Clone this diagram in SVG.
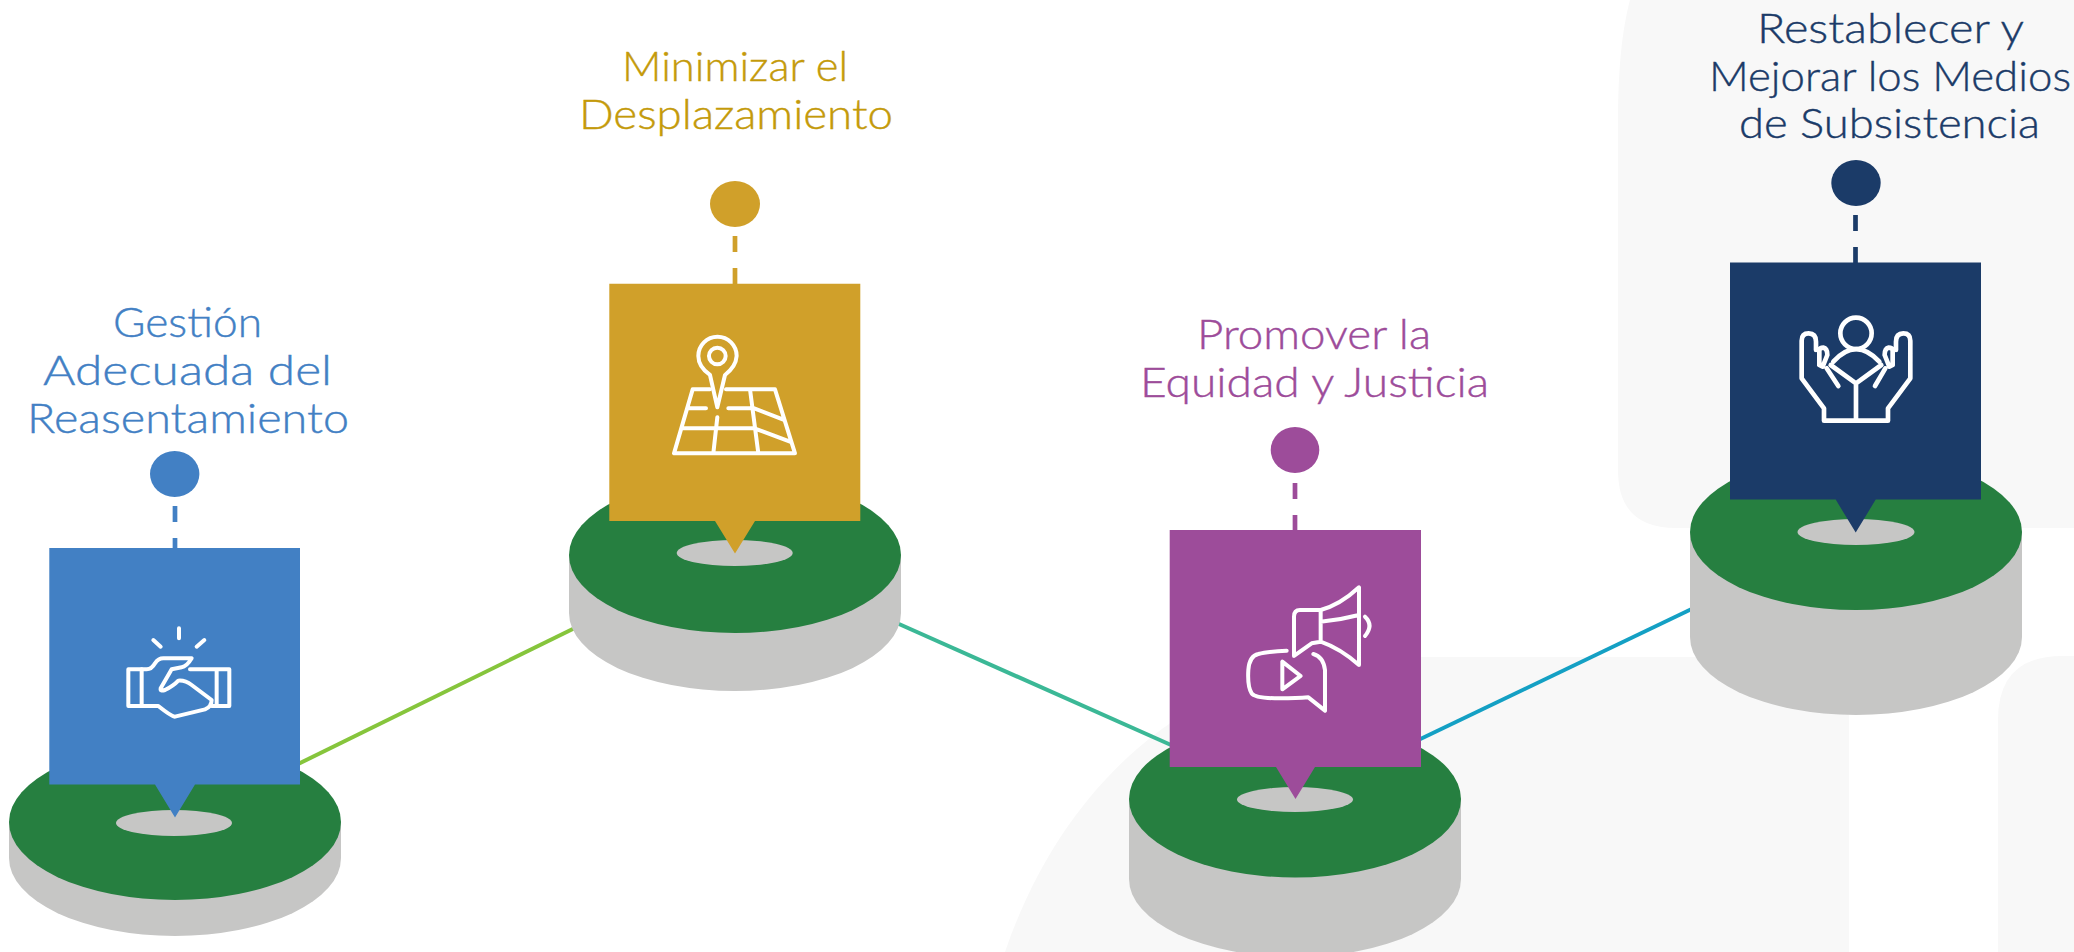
<svg xmlns="http://www.w3.org/2000/svg" width="2074" height="952" viewBox="0 0 2074 952">
<style>
.bg{fill:#f8f8f8}
.side,.hole{fill:#c6c6c5}
.top{fill:#267f40}
.lbl{font-family:"Lato","Liberation Sans",sans-serif;font-weight:300;font-size:41px;stroke-width:.4}
.ic{fill:none;stroke:#fff;stroke-width:12;stroke-linecap:round;stroke-linejoin:round}
.ic4{stroke-width:14}
.conn{fill:none;stroke-width:4}
.dash{fill:none;stroke-width:4.7;stroke-dasharray:16 16}
.blue{fill:#4280c4}.gold{fill:#d0a02a}.purple{fill:#9d4c9a}.navy{fill:#1b3b68}
.tblue{fill:#4280c4;stroke:#4280c4}.tgold{fill:#c49a0a;stroke:#c49a0a}.tpurple{fill:#9d4c9a;stroke:#9d4c9a}.tnavy{fill:#1b3b68;stroke:#1b3b68}
</style>
<rect width="2074" height="952" fill="#fff"/>
<g id="background">
<path class="bg" d="M1005 952C1060 790 1190 657 1390 657H1849V952Z"/>
<path class="bg" d="M1998 952V720Q1998 656 2062 656H2074V952Z"/>
<path class="bg" d="M1630 0C1622 30 1618 70 1618 120V470Q1618 528 1676 528H2074V0Z"/>
</g>
<g id="connectors" transform="translate(0 1)">
<path class="conn" stroke="#86c53c" d="M290 767L585 622"/>
<path class="conn" stroke="#3bb896" d="M890 619L1180 748"/>
<path class="conn" stroke="#14a0c4" d="M1410 743L1700 604"/>
</g>
<g id="node-gestion" transform="translate(0 1)">
<path class="side" d="M9 821V857A166 78 0 0 0 341 857V821Z"/>
<ellipse class="top" cx="175" cy="821" rx="166" ry="78"/>
<ellipse class="hole" cx="174" cy="822" rx="58" ry="13"/>
<path class="dash" stroke="#4280c4" d="M175 505V547"/>
<ellipse class="blue" cx="174.7" cy="473" rx="24.7" ry="23"/>
<path class="blue" d="M49.3 547H300V783.6H195L175 816.6L155 783.6H49.3Z"/>
<g transform="translate(110 609) scale(.3333)">
<path class="ic" d="M207 55V85M130 90L152 110M283 90L260 110"/>
<path class="ic" d="M245 145H160Q145 145 135 160Q125 178 110 178H55V288H145Q185 320 195 320L285 298Q305 290 305 270L245 225Q225 210 205 212Q190 228 165 240Q150 245 152 235L185 178L215 172Q230 170 245 145Z"/>
<path class="ic" d="M95 178V288M240 178H358V288H305M320 178V288"/>
</g>
<text class="lbl tblue" x="113" y="336" textLength="149" lengthAdjust="spacingAndGlyphs">Gestión</text>
<text class="lbl tblue" x="43" y="384" textLength="289" lengthAdjust="spacingAndGlyphs">Adecuada del</text>
<text class="lbl tblue" x="27" y="432" textLength="322" lengthAdjust="spacingAndGlyphs">Reasentamiento</text>
</g>
<g id="node-minimizar" transform="translate(0 1)">
<path class="side" d="M569 554V612A166 78 0 0 0 901 612V554Z"/>
<ellipse class="top" cx="735" cy="554" rx="166" ry="78"/>
<ellipse class="hole" cx="734.7" cy="552" rx="58" ry="13"/>
<path class="dash" stroke="#d0a02a" d="M735 235V283"/>
<ellipse class="gold" cx="735" cy="203" rx="25" ry="23"/>
<path class="gold" d="M609.3 282.8H860.3V520H755L735 552.5L715 520H609.3Z"/>
<g transform="translate(660 319) scale(.3333)">
<circle class="ic" cx="172" cy="108" r="25"/>
<path class="ic" d="M150 165Q115 140 115 108A57 57 0 1 1 230 108Q228 140 195 165L172 262Z"/>
<path class="ic" d="M150 208H98L42 400H405L345 208H198M85 265H138M205 265H270M65 325H280M270 208L295 400M172 292L160 400M275 262L368 298M283 325L390 365"/>
</g>
<text class="lbl tgold" x="622" y="80" textLength="226" lengthAdjust="spacingAndGlyphs">Minimizar el</text>
<text class="lbl tgold" x="579" y="128" textLength="314" lengthAdjust="spacingAndGlyphs">Desplazamiento</text>
</g>
<g id="node-promover" transform="translate(0 1)">
<path class="side" d="M1129 798V878A166 78 0 0 0 1461 878V798Z"/>
<ellipse class="top" cx="1295" cy="798" rx="166" ry="78.5"/>
<ellipse class="hole" cx="1295" cy="798.5" rx="58" ry="12.5"/>
<path class="dash" stroke="#9d4c9a" d="M1295 482V529"/>
<ellipse class="purple" cx="1295" cy="449" rx="24.3" ry="23"/>
<path class="purple" d="M1169.7 529H1421V766H1315L1295.5 798L1276 766H1169.7Z"/>
<g transform="translate(1230 569) scale(.3333)">
<path class="ic" d="M272 120H210Q192 120 192 140V258L245 220L272 215ZM272 120Q330 105 387 52V285Q330 235 272 215M272 155Q330 150 387 135M405 140Q432 165 405 198"/>
<path class="ic" d="M170 242Q110 245 85 252Q58 258 55 300Q52 350 65 370Q75 385 150 385Q200 385 235 382L285 422V300Q280 260 250 252"/>
<path class="ic" d="M157 275V358L212 318Z"/>
</g>
<text class="lbl tpurple" x="1197" y="348" textLength="234" lengthAdjust="spacingAndGlyphs">Promover la</text>
<text class="lbl tpurple" x="1140" y="396" textLength="349" lengthAdjust="spacingAndGlyphs">Equidad y Justicia</text>
</g>
<g id="node-restablecer" transform="translate(0 1)">
<path class="side" d="M1690 531V636A166 78 0 0 0 2022 636V531Z"/>
<ellipse class="top" cx="1856" cy="531" rx="166" ry="78"/>
<ellipse class="hole" cx="1856" cy="531" rx="58.5" ry="13"/>
<path class="dash" stroke="#1b3b68" d="M1855.5 214V262"/>
<ellipse class="navy" cx="1856" cy="182" rx="24.7" ry="23"/>
<path class="navy" d="M1730 261.6H1981V498.6H1875.7L1855.7 531.6L1835.7 498.6H1730Z"/>
<g transform="translate(1780 299) scale(.3333)">
<circle class="ic ic4" cx="228" cy="100" r="47"/>
<path class="ic ic4" d="M160 185Q228 110 298 185M152 195L228 250L304 195M228 250V360"/>
<path class="ic ic4" d="M228 362H132V325L65 235V122Q65 100 86 100Q108 100 108 125V150M118 195V150Q120 143 130 143Q142 145 142 165L128 200L118 195M140 205L175 258"/>
<path class="ic ic4" d="M228 362H324V325L391 235V122Q391 100 370 100Q348 100 348 125V150M338 195V150Q336 143 326 143Q314 145 314 165L328 200L338 195M316 205L285 258"/>
</g>
<text class="lbl tnavy" x="1757" y="42" textLength="267" lengthAdjust="spacingAndGlyphs">Restablecer y</text>
<text class="lbl tnavy" x="1709" y="89.5" textLength="362" lengthAdjust="spacingAndGlyphs">Mejorar los Medios</text>
<text class="lbl tnavy" x="1739" y="137" textLength="301" lengthAdjust="spacingAndGlyphs">de Subsistencia</text>
</g>
</svg>
